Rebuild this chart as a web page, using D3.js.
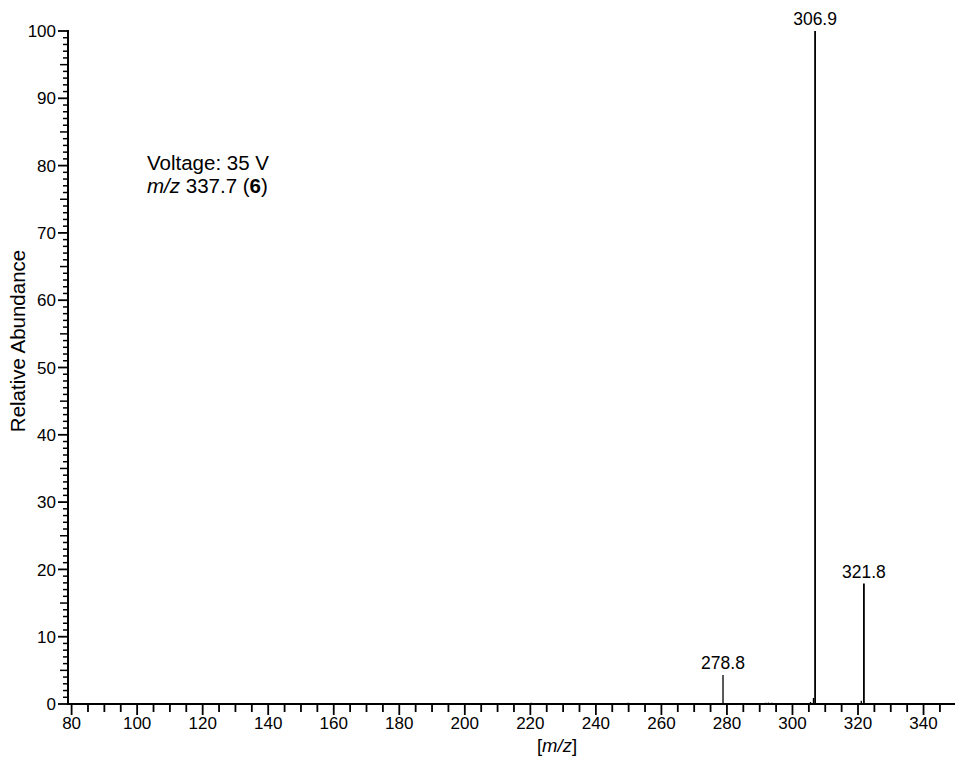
<!DOCTYPE html>
<html>
<head>
<meta charset="utf-8">
<script src="https://cdn.jsdelivr.net/npm/d3@7"></script>
<style>
  html, body { margin: 0; padding: 0; background: #fff; }
  svg { display: block; }
  text { font-family: "Liberation Sans", Arial, Helvetica, sans-serif; fill: #000; }
</style>
</head>
<body>
<svg id="chart" width="955" height="763"></svg>
<script>
// MS/MS spectrum: peak positions (m/z) and relative abundances (%)
const peakMz        = [220.3, 249.9, 278.8, 291.9, 292.7, 293.7, 305.5, 306.4, 306.9, 321.0, 321.8];
const peakAbundance = [0.2,   0.2,   4.3,   0.2,   0.2,   0.2,   0.3,   0.9,   100,   0.5,   17.9];
const labelledPeaks = [278.8, 306.9, 321.8];

const xTickValues = [80, 100, 120, 140, 160, 180, 200, 220, 240, 260, 280, 300, 320, 340];
const yTickValues = [0, 10, 20, 30, 40, 50, 60, 70, 80, 90, 100];

const svg = d3.select("#chart");
const plotLeft = 68, plotRight = 955, plotTop = 31, plotBottom = 704;

const x = d3.scaleLinear().domain([78.9, 349.6]).range([plotLeft, plotRight]);
const y = d3.scaleLinear().domain([0, 100]).range([plotBottom, plotTop]);

// minor tick grids
const xMinor = d3.range(80, 350, 5).filter(v => v % 20 !== 0);
const yMinor = d3.range(0, 101, 1).filter(v => v % 10 !== 0);

// x axis
const gx = svg.append("g").attr("transform", `translate(0,${plotBottom})`);
gx.append("line").attr("x1", plotLeft).attr("x2", plotRight).attr("stroke", "#000").attr("stroke-width", 2);
gx.selectAll("line.minor").data(xMinor).join("line")
  .attr("class", "minor")
  .attr("x1", d => x(d)).attr("x2", d => x(d))
  .attr("y1", 0).attr("y2", 8)
  .attr("stroke", "#000").attr("stroke-width", 1.8);
gx.selectAll("line.major").data(xTickValues).join("line")
  .attr("class", "major")
  .attr("x1", d => x(d)).attr("x2", d => x(d))
  .attr("y1", 0).attr("y2", 11)
  .attr("stroke", "#000").attr("stroke-width", 1.8);
gx.selectAll("text").data(xTickValues).join("text")
  .attr("x", d => x(d)).attr("y", 25)
  .attr("text-anchor", "middle")
  .attr("font-size", 17)
  .text(d => d);

// y axis
const gy = svg.append("g").attr("transform", `translate(${plotLeft},0)`);
gy.append("line").attr("y1", plotTop - 1).attr("y2", plotBottom + 1).attr("stroke", "#000").attr("stroke-width", 2);
gy.selectAll("line.minor").data(yMinor).join("line")
  .attr("class", "minor")
  .attr("y1", d => y(d)).attr("y2", d => y(d))
  .attr("x1", 0).attr("x2", d => d % 5 === 0 ? -8 : -5)
  .attr("stroke", "#000").attr("stroke-width", 1.5);
gy.selectAll("line.major").data(yTickValues).join("line")
  .attr("class", "major")
  .attr("y1", d => y(d)).attr("y2", d => y(d))
  .attr("x1", 0).attr("x2", -10)
  .attr("stroke", "#000").attr("stroke-width", 1.8);
gy.selectAll("text").data(yTickValues).join("text")
  .attr("x", -12).attr("y", d => y(d))
  .attr("dy", "0.36em")
  .attr("text-anchor", "end")
  .attr("font-size", 17)
  .text(d => d);

// axis titles
svg.append("text")
  .attr("transform", `translate(25,341) rotate(-90)`)
  .attr("text-anchor", "middle")
  .attr("font-size", 20.5)
  .text("Relative Abundance");

const xt = svg.append("text")
  .attr("x", 557).attr("y", 752)
  .attr("text-anchor", "middle")
  .attr("font-size", 18.5);
xt.append("tspan").text("[");
xt.append("tspan").attr("font-style", "italic").text("m/z");
xt.append("tspan").text("]");

// spectrum sticks
const peaks = peakMz.map((m, i) => ({ mz: m, ab: peakAbundance[i] }));
svg.append("g").selectAll("line").data(peaks).join("line")
  .attr("x1", d => x(d.mz)).attr("x2", d => x(d.mz))
  .attr("y1", y(0)).attr("y2", d => y(d.ab))
  .attr("stroke", "#000")
  .attr("stroke-width", d => d.ab > 10 ? 1.8 : 1.3);

// peak labels
svg.append("g").selectAll("text").data(peaks.filter(d => labelledPeaks.includes(d.mz))).join("text")
  .attr("x", d => x(d.mz)).attr("y", d => y(d.ab) - 6)
  .attr("text-anchor", "middle")
  .attr("font-size", 17.5)
  .text(d => d.mz.toFixed(1));

// annotation
svg.append("text").attr("x", 147).attr("y", 170).attr("font-size", 20.5).text("Voltage: 35 V");
const ann = svg.append("text").attr("x", 147).attr("y", 193).attr("font-size", 20.5);
ann.append("tspan").attr("font-style", "italic").text("m/z");
ann.append("tspan").text(" 337.7 (");
ann.append("tspan").attr("font-weight", "bold").text("6");
ann.append("tspan").text(")");
</script>
</body>
</html>
